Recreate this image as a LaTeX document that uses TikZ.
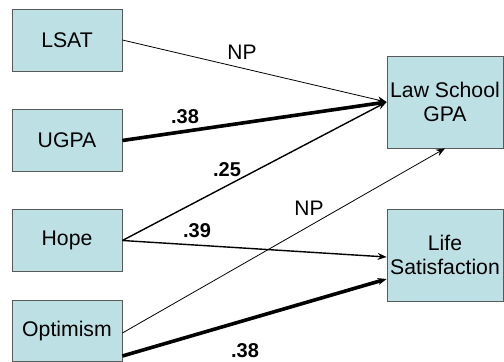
\documentclass[tikz,border=0pt]{standalone}
\usepackage{fontspec}
\setmainfont{Liberation Sans}
\usetikzlibrary{arrows.meta, positioning}
\definecolor{boxfill}{HTML}{BCE0E4}

\begin{document}
\begin{tikzpicture}[
    x=0.5pt, y=-0.5pt,
    var/.style={draw=black!65, fill=boxfill, minimum width=55pt, minimum height=31pt, align=center, inner sep=1pt, font=\fontsize{10.6}{12}\selectfont},
    outcome/.style={var, minimum width=58pt, minimum height=46pt},
    link/.style={-{Stealth[length=4.5pt, width=3.5pt]}, line width=0.7pt},
    weak/.style={link, line width=0.4pt},
    strong/.style={link, line width=1.8pt},
    coef/.style={inner sep=0pt, font=\fontsize{10}{12}\selectfont\bfseries},
    np/.style={inner sep=0pt, font=\fontsize{10.5}{12}\selectfont}
]
    \useasboundingbox (0,0) rectangle (504,362);

    % Predictors
    \node[var] (lsat) at (67,40) {LSAT};
    \node[var] (ugpa) at (67,140.5) {UGPA};
    \node[var] (hope) at (67,240.5) {Hope};
    \node[var, minimum height=30.5pt] (opt) at (67,331) {Optimism};

    % Outcomes
    \node[outcome] (law) at (445,102) {Law School\\GPA};
    \node[outcome] (life) at (445,255) {Life\\Satisfaction};

    % Paths
    \draw[weak] (lsat.east) -- (law.west);
    \draw[strong] (ugpa.east) -- (law.west);
    \draw[link] (hope.east) -- (law.west);
    \draw[link] (hope.east) -- ([yshift=-1pt]life.west);
    \draw[weak] ([yshift=-1pt]opt.east) -- (law.south);
    \draw[strong] ([yshift=-12.5pt]opt.east) -- ([yshift=-12pt]life.west);

    % Coefficients
    \node[np] (np1) at (242,52) {NP};
    \node[coef] (c1) at (185,117) {.38};
    \node[coef] (c2) at (227,170) {.25};
    \node[coef] (c3) at (197,231) {.39};
    \node[np] (np2) at (309,208) {NP};
    \node[coef] (c4) at (245,351) {.38};
\end{tikzpicture}
\end{document}
